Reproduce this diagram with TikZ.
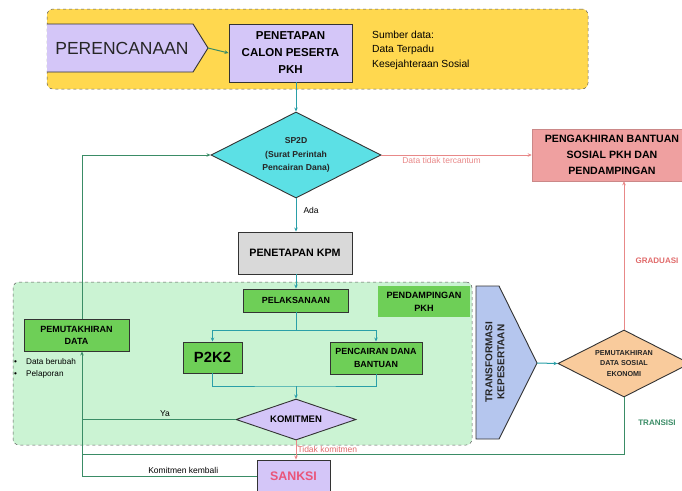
\documentclass[tikz,border=0pt]{standalone}
\usepackage{fontspec}
\setmainfont{Liberation Sans}
\usetikzlibrary{shapes.geometric,arrows.meta,calc}
\definecolor{ybg}{HTML}{FFD84F}
\definecolor{lilac}{HTML}{D4C6F8}
\definecolor{cyanf}{HTML}{5CE0E5}
\definecolor{salmon}{HTML}{EFA0A0}
\definecolor{greyf}{HTML}{D9D9D9}
\definecolor{mint}{HTML}{CBF3D3}
\definecolor{gbox}{HTML}{6ECF57}
\definecolor{bluef}{HTML}{B5C6EE}
\definecolor{peach}{HTML}{F9CB9C}
\definecolor{bord}{HTML}{333333}
\definecolor{tealc}{HTML}{2A9FA8}
\definecolor{dgreen}{HTML}{3A8C66}
\definecolor{redc}{HTML}{E88888}
\definecolor{redt}{HTML}{E06A6A}
\definecolor{sankc}{HTML}{EA5479}
\tikzset{
  bx/.style={draw=bord, line width=0.9pt, align=center, inner sep=0pt},
  arr/.style={-{Stealth[length=4pt,width=3.5pt]}},
  tline/.style={draw=tealc, line width=1pt},
  gline/.style={draw=dgreen, line width=1pt},
  rline/.style={draw=redc, line width=1pt},
  lbl/.style={font=\fontsize{8.5}{10}\selectfont, inner sep=1pt},
}
\begin{document}
\begin{tikzpicture}[x=1pt,y=-1pt]
\useasboundingbox (0,0) rectangle (682,490);
% zones
\node[draw=gray!70!black, dashed, line width=0.5pt, rounded corners=6pt, fill=ybg,
      minimum width=541pt, minimum height=80pt, inner sep=0pt] (ybox) at (317.5,49) {};
\node[draw=gray!70!black, dashed, line width=0.5pt, rounded corners=6pt, fill=mint,
      minimum width=459pt, minimum height=163pt, inner sep=0pt] (gzone) at (242.5,363.5) {};
% perencanaan pentagon
\fill[lilac] (47,24) -- (193,24) -- (208,48) -- (193,72) -- (47,72) -- cycle;
\draw[bord, line width=0.9pt] (47,24) -- (193,24) -- (208,48) -- (193,72) -- (47,72);
\coordinate (pertip) at (208,48);
\node[font=\fontsize{17.5}{20}\selectfont, text=black!85] (peren) at (122,48) {PERENCANAAN};
% boxes
\node[bx, fill=lilac, minimum width=123pt, minimum height=58pt,
      font=\bfseries\fontsize{11.5}{17}\selectfont] (pen) at (290.5,53) {PENETAPAN\\CALON PESERTA\\PKH};
\node[anchor=west, align=left, inner sep=0pt, font=\fontsize{10.3}{14.5}\selectfont] (src) at (372,50)
  {Sumber data:\\Data Terpadu\\Kesejahteraan Sosial};
\node[diamond, aspect=2, draw=bord, line width=0.9pt, fill=cyanf, minimum width=170pt, minimum height=86pt,
      inner sep=0pt, align=center, text=black!85, font=\bfseries\fontsize{8.6}{13.5}\selectfont] (sp2d) at (296,155)
  {SP2D\\(Surat Perintah\\Pencairan Dana)};
\node[bx, draw=salmon!85!black, line width=0.5pt, fill=salmon, minimum width=160pt, minimum height=52pt,
      font=\bfseries\fontsize{10.6}{16}\selectfont] (pk) at (612,155) {PENGAKHIRAN BANTUAN\\SOSIAL PKH DAN\\PENDAMPINGAN};
\node[bx, fill=greyf, minimum width=114pt, minimum height=42pt,
      font=\bfseries\fontsize{10.7}{13}\selectfont] (kpm) at (295,253) {PENETAPAN KPM};
\node[bx, fill=gbox, minimum width=105pt, minimum height=23pt,
      font=\bfseries\fontsize{8.9}{11}\selectfont] (pel) at (296,300.5) {PELAKSANAAN};
\node[align=center, inner sep=0pt, fill=gbox, minimum width=92pt, minimum height=31pt,
      font=\bfseries\fontsize{9.1}{13}\selectfont] (pend) at (424,301.5) {PENDAMPINGAN\\PKH};
\node[bx, fill=gbox, minimum width=59pt, minimum height=31pt,
      font=\bfseries\fontsize{14.8}{17}\selectfont] (p2k2) at (212.5,357.5) {P2K2};
\node[bx, fill=gbox, minimum width=92pt, minimum height=32pt,
      font=\bfseries\fontsize{8.9}{13}\selectfont] (pdb) at (376,358) {PENCAIRAN DANA\\BANTUAN};
\node[diamond, aspect=2.9, draw=bord, line width=0.9pt, fill=lilac, minimum width=120pt, minimum height=41pt,
      inner sep=0pt, font=\bfseries\fontsize{9.5}{11}\selectfont] (kom) at (296,419.5) {KOMITMEN};
\node[bx, fill=gbox, minimum width=105pt, minimum height=32pt,
      font=\bfseries\fontsize{9}{12}\selectfont] (pem) at (76.5,335) {PEMUTAKHIRAN\\DATA};
\node[anchor=west, align=left, inner sep=0pt, font=\fontsize{8.2}{11.5}\selectfont] (bul) at (14,368.5)
  {\makebox[12pt][l]{\textbullet}Data berubah\\\makebox[12pt][l]{\textbullet}Pelaporan};
\node[bx, fill=lilac, minimum width=73pt, minimum height=32pt, text=sankc,
      font=\bfseries\fontsize{12.4}{14}\selectfont] (sanksi) at (293.5,476) {SANKSI};
% transformasi shape
\fill[bluef] (476,286) -- (499,286) -- (537,363) -- (499,439) -- (476,439) -- cycle;
\draw[bord, line width=0.9pt] (476,286) -- (499,286) -- (537,363) -- (499,439) -- (476,439) -- cycle;
\coordinate (trtip) at (537,363);
\node[rotate=90, align=center, inner sep=0pt, text=black!85, font=\bfseries\fontsize{10}{12}\selectfont] (tr) at (495,362)
  {TRANSFORMASI\\KEPESERTAAN};
\node[diamond, aspect=2, draw=bord, line width=0.9pt, fill=peach, minimum width=132pt, minimum height=67pt,
      inner sep=0pt, align=center, text=black!85, font=\bfseries\fontsize{7.2}{10.5}\selectfont] (ds) at (624,363.5)
  {PEMUTAKHIRAN\\DATA SOSIAL\\EKONOMI};
\node[text=redt, inner sep=0pt, font=\bfseries\fontsize{8}{10}\selectfont] (grad) at (657,261) {GRADUASI};
\node[text=dgreen, inner sep=0pt, font=\bfseries\fontsize{8}{10}\selectfont] (trans) at (657,423) {TRANSISI};
% connectors
\coordinate (lx) at (82,0);
\coordinate (split) at (296,330);
\coordinate (merge) at (296,386);
\coordinate (tj) at (82,454);
\draw[gline, arr] (pertip) -- (pen.west);
\draw[tline, arr] (pen.south -| sp2d.north) -- (sp2d.north);
\draw[rline, arr] (sp2d.east) -- (pk.west)
  node[lbl, pos=0.4, below=1pt, text=redc] {Data tidak tercantum};
\draw[tline, arr] (sp2d.south) -- (kpm.north -| sp2d.south)
  node[lbl, pos=0.35, right=7pt, inner sep=0pt] {Ada};
\draw[tline, arr] (kpm.south -| pel.north) -- (pel.north);
\draw[tline] (pel.south) -- (split);
\draw[tline, arr] (split) -| (p2k2.north);
\draw[tline, arr] (split) -| (pdb.north);
\draw[tline] (p2k2.south) |- (merge) -| (pdb.south);
\draw[tline, arr] (merge) -- (kom.north);
\draw[gline] (kom.west) -- (kom.west -| lx) node[lbl, pos=0.46, above=1pt] {Ya};
\draw[gline, arr] (pem.north -| lx) |- (sp2d.west);
\draw[gline, arr] (sanksi.west) -| (pem.south -| lx)
  node[lbl, pos=0.21, above=1pt] {Komitmen kembali};
\draw[gline] (ds.south) |- (tj);
\draw[rline, arr] (kom.south) -- (sanksi.north -| kom.south)
  node[lbl, pos=0.45, right=1pt, inner sep=0pt, text=redt] {Tidak komitmen};
\draw[tline, arr] (trtip) -- (ds.west);
\draw[rline, arr] (ds.north) -- (ds.north |- pk.south);
\end{tikzpicture}
\end{document}
